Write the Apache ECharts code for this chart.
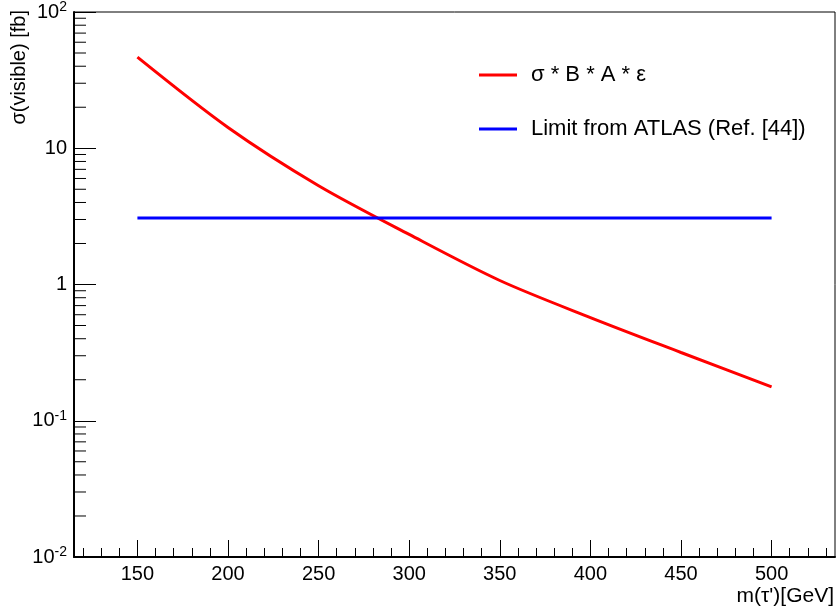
<!DOCTYPE html>
<html>
<head>
<meta charset="utf-8">
<script src="https://cdn.jsdelivr.net/npm/echarts@6/dist/echarts.min.js"></script>
<style>html,body{margin:0;padding:0;background:#fff}#c{width:837px;height:610px}</style>
</head>
<body>
<div id="c"></div>
<script>
// ---- data ----
const massGeV = [150, 200, 250, 300, 350, 400, 450, 500];
const sigmaBAe = [46.6, 14.2, 5.31, 2.33, 1.07, 0.572, 0.317, 0.177];
const limitMass = [150, 500];
const limitValue = [3.08, 3.08];
const xMajorTicks = [150, 200, 250, 300, 350, 400, 450, 500];
const xMinorTicks = [120,130,140,160,170,180,190,210,220,230,240,260,270,280,290,310,320,330,340,360,370,380,390,410,420,430,440,460,470,480,490,510,520,530];
const yMajorTicks = [0.01, 0.1, 1, 10, 100];
const yMinorTicks = [0.02,0.03,0.04,0.05,0.06,0.07,0.08,0.09,0.2,0.3,0.4,0.5,0.6,0.7,0.8,0.9,2,3,4,5,6,7,8,9,20,30,40,50,60,70,80,90];
const seriesNames = ['σ * B * A * ε', 'Limit from ATLAS (Ref. [44])'];

const FONT = 'Liberation Sans';
const chart = echarts.init(document.getElementById('c'), null, {renderer: 'canvas'});

function yLabel(v) {
  const e = Math.round(Math.log10(v));
  if (e === 0) return '1';
  if (e === 1) return '10';
  return '10{sup|' + e + '}';
}

const option = {
  animation: false,
  backgroundColor: '#fff',
  textStyle: {fontFamily: FONT},
  grid: {left: 74, right: 2, top: 10, bottom: 53, show: true, borderColor: '#000', borderWidth: 1, backgroundColor: 'transparent'},
  legend: {
    left: 474, top: 58, orient: 'vertical', itemGap: 30,
    itemWidth: 38, itemHeight: 3, icon: 'rect',
    textStyle: {fontFamily: FONT, fontSize: 22, color: '#000', lineHeight: 24, padding: [0, 0, 0, 9]},
    data: seriesNames
  },
  xAxis: [
    {
      type: 'value', min: 115, max: 535, position: 'bottom',
      axisLine: {show: true, onZero: false, lineStyle: {color: '#000', width: 2}},
      axisTick: {show: true, inside: true, length: 17, customValues: xMajorTicks, lineStyle: {color: '#000', width: 1}},
      axisLabel: {show: true, customValues: xMajorTicks, margin: 7, fontFamily: FONT, fontSize: 20, color: '#000'},
      splitLine: {show: false}
    },
    {
      type: 'value', min: 115, max: 535, position: 'bottom',
      axisLine: {show: false, onZero: false},
      axisTick: {show: true, inside: true, length: 9, customValues: xMinorTicks, lineStyle: {color: '#000', width: 1}},
      axisLabel: {show: false},
      splitLine: {show: false}
    }
  ],
  yAxis: [
    {
      type: 'log', logBase: 10, min: 0.01, max: 100, position: 'left',
      axisLine: {show: true, onZero: false, lineStyle: {color: '#000', width: 2}},
      axisTick: {show: true, inside: true, length: 22, lineStyle: {color: '#000', width: 1}},
      axisLabel: {
        show: true, margin: 7, fontFamily: FONT, fontSize: 20, color: '#000',
        formatter: yLabel,
        rich: {sup: {fontFamily: FONT, fontSize: 14, color: '#000', padding: [0, 0, 10, 0]}}
      },
      splitLine: {show: false}
    }
  ],
  graphic: [
    {type: 'text', x: 19, y: 10, rotation: Math.PI / 2,
     style: {text: 'σ(visible) [fb]', fontFamily: FONT, fontSize: 20, fill: '#000', align: 'right', verticalAlign: 'middle'}},
    {type: 'text', x: 834, y: 596,
     style: {text: "m(τ')[GeV]", fontFamily: FONT, fontSize: 21, fill: '#000', align: 'right', verticalAlign: 'middle'}}
  ],
  series: [
    {
      name: seriesNames[0], type: 'line', xAxisIndex: 0, yAxisIndex: 0,
      data: massGeV.map((m, i) => [m, sigmaBAe[i]]),
      smooth: 0.3,
      showSymbol: false, symbol: 'none', lineStyle: {color: '#ff0000', width: 3}, itemStyle: {color: '#ff0000'}
    },
    {
      name: seriesNames[1], type: 'line', xAxisIndex: 0, yAxisIndex: 0,
      data: limitMass.map((m, i) => [m, limitValue[i]]),
      showSymbol: false, symbol: 'none', lineStyle: {color: '#0000ff', width: 3}, itemStyle: {color: '#0000ff'}
    },
    {
      name: 'yMinorTicks', type: 'custom', xAxisIndex: 0, yAxisIndex: 0, clip: false, silent: true,
      data: yMinorTicks.map(v => [115, v]),
      renderItem: function (params, api) {
        const p = api.coord([api.value(0), api.value(1)]);
        return {type: 'line', shape: {x1: p[0], y1: p[1], x2: p[0] + 12, y2: p[1]}, style: {stroke: '#000', lineWidth: 1}};
      }
    }
  ]
};
chart.setOption(option);
</script>
</body>
</html>
